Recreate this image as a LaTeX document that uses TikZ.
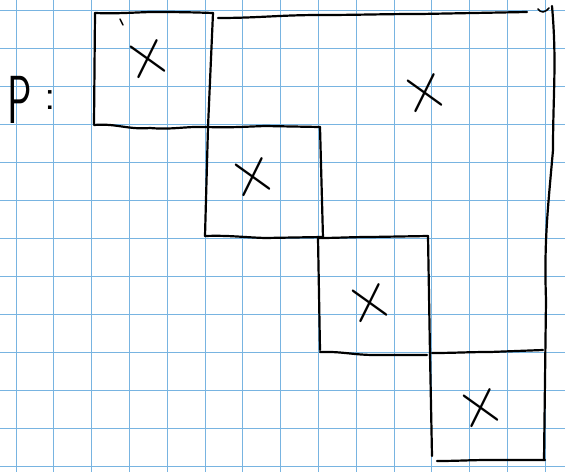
\documentclass[tikz,border=0pt]{standalone}
\usepackage{fontspec}
\begin{document}
\begin{tikzpicture}[x=1pt,y=-1pt,
  gridline/.style={draw=gridblue,line width=1pt},
  pen/.style={draw=black,line width=2.2pt,line cap=round,line join=round},
  xmark/.style={font=\fontsize{74}{74}\selectfont,inner sep=0pt,rotate=14,xscale=0.85},
  lbl/.style={font=\sffamily\fontsize{68}{68}\selectfont,inner sep=0pt}]
\definecolor{gridblue}{RGB}{120,180,225}
\useasboundingbox (0,0) rectangle (565,472);
\fill[white] (0,0) rectangle (565,472);
% graph paper grid
\foreach \k in {0,...,14} \draw[gridline] ({16+37.8*\k},0) -- ({16+37.8*\k},472);
\foreach \k in {0,...,12} \draw[gridline] (0,{10+38*\k}) -- (565,{10+38*\k});
% label P :
\node[lbl,xscale=0.6] (p) at (20,100) {P};
\node[font=\sffamily\fontsize{44}{44}\selectfont,inner sep=0pt] (colon) at (50,100) {:};
% block 1
\draw[pen] (95,13) to[out=-2,in=182] (150,12) to[out=0,in=178] (213,13);
\draw[pen] (95,13) -- (94,124);
\draw[pen] (94,125) to[out=5,in=185] (150,128) to[out=-5,in=178] (207,127);
% vertical line between block 1 and region, down to bottom of block 2
\draw[pen] (213,13) -- (208,127) -- (205,236);
% block 2
\draw[pen] (207,127) to[out=-2,in=182] (265,126) -- (320,127);
\draw[pen] (205,236) to[out=2,in=178] (265,238) -- (322,237);
\draw[pen] (320,127) -- (323,238);
% block 3
\draw[pen] (318,238) to[out=0,in=180] (370,237) -- (428,236);
\draw[pen] (318,238) -- (320,350);
\draw[pen] (320,352) to[out=2,in=180] (375,355) -- (427,355);
\draw[pen] (428,236) -- (430,354) -- (432,456);
% block 4
\draw[pen] (432,353) to[out=0,in=180] (490,352) -- (543,350);
\draw[pen] (437,461) to[out=0,in=180] (490,460) -- (545,460);
% big region top and right edge
\draw[pen] (218,18) to[out=0,in=180] (320,15) to[out=0,in=180] (420,14) -- (527,12);
\draw[pen,line width=1.5pt] (538,9) to[out=-50,in=180] (543,12) to[out=0,in=-140] (549,8);
\draw[pen] (552,6) to[out=-85,in=90] (553,150) to[out=-95,in=92] (546,300) -- (544,460);
% stray tick
\draw[pen,line width=1.4pt] (120,19) -- (123,25);
% crosses
\node[xmark] (x1) at (148,60) {×};
\node[xmark] (x0) at (425,94) {×};
\node[xmark] (x2) at (253,178) {×};
\node[xmark] (x3) at (370,304) {×};
\node[xmark] (x4) at (481,409) {×};
\end{tikzpicture}
\end{document}
